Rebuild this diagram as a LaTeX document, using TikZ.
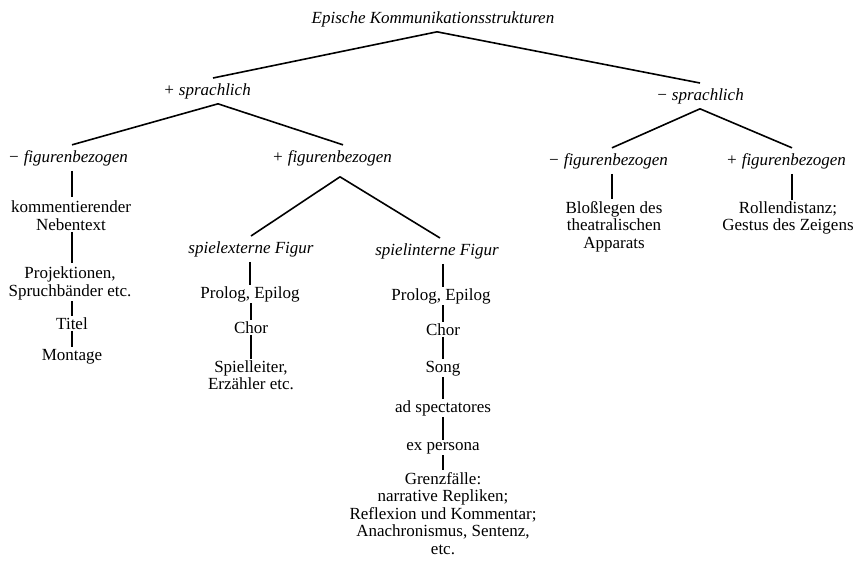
\documentclass[tikz,border=0pt]{standalone}
\usepackage{fontspec}
\setmainfont{Liberation Serif}
\begin{document}
\begin{tikzpicture}[x=1pt,y=1pt,
  rm/.style={anchor=base, inner sep=1.5pt, align=center, font=\fontsize{17}{17.5}\selectfont},
  it/.style={anchor=base, inner sep=5pt, align=center, font=\fontsize{17}{17.5}\selectfont\itshape},
  conn/.style={line width=1.6pt}]
\useasboundingbox (0,0) rectangle (863,-563);
% labels
\node[it] (title) at (433,-23) {Epische Kommunikationsstrukturen};
\node[it] (ps) at (207,-95) {+ sprachlich};
\node[it] (ms) at (700,-100) {− sprachlich};
\node[it] (mf1) at (68,-162) {− figurenbezogen};
\node[it] (pf1) at (332,-162) {+ figurenbezogen};
\node[it] (mf2) at (608,-165) {− figurenbezogen};
\node[it] (pf2) at (786,-165) {+ figurenbezogen};
% left column (multi-line nodes: base = last baseline)
\node[rm] (kn) at (71,-230) {kommentierender\\Nebentext};
\node[rm] (pr) at (70,-296) {Projektionen,\\Spruchbänder etc.};
\node[rm] (ti) at (72,-329) {Titel};
\node[rm] (mo) at (72,-360) {Montage};
% spielexterne
\node[it] (se) at (251,-253) {spielexterne Figur};
\node[rm] (pe1) at (250,-298) {Prolog, Epilog};
\node[rm] (ch1) at (251,-333) {Chor};
\node[rm] (sl) at (251,-389.5) {Spielleiter,\\Erzähler etc.};
% spielinterne
\node[it] (si) at (437,-255) {spielinterne Figur};
\node[rm] (pe2) at (441,-300) {Prolog, Epilog};
\node[rm] (ch2) at (443,-335) {Chor};
\node[rm] (so) at (443,-372) {Song};
\node[rm] (ad) at (443,-412) {ad spectatores};
\node[rm] (ex) at (443,-450) {ex persona};
\node[rm] (gr) at (443,-554) {Grenzfälle:\\narrative Repliken;\\Reflexion und Kommentar;\\Anachronismus, Sentenz,\\etc.};
% right
\node[rm] (bl) at (614,-248) {Bloßlegen des\\theatralischen\\Apparats};
\node[rm] (ro) at (788,-230.5) {Rollendistanz;\\Gestus des Zeigens};
% branches
\draw[conn] ([xshift=4pt]title.south) -- ([xshift=6pt]ps.north);
\draw[conn] ([xshift=4pt]title.south) -- (ms.north);
\draw[conn] ([xshift=11pt]ps.south) -- ([xshift=4pt]mf1.north);
\draw[conn] ([xshift=11pt]ps.south) -- ([xshift=11pt]pf1.north);
\draw[conn] ([xshift=8pt,yshift=-6pt]pf1.south) -- (se.north);
\draw[conn] ([xshift=8pt,yshift=-6pt]pf1.south) -- ([xshift=3pt]si.north);
\draw[conn] (ms.south) -- ([xshift=4pt]mf2.north);
\draw[conn] (ms.south) -- ([xshift=6pt]pf2.north);
% verticals
\draw[conn] (ti.north |- mf1.south) -- ([yshift=2pt]ti.north |- kn.north);
\draw[conn] (ti.north |- kn.south) -- ([yshift=2pt]ti.north |- pr.north);
\draw[conn] (ti.north |- pr.south) -- (ti.north);
\draw[conn] (ti.south) -- (mo.north);
\draw[conn] (pe1.north |- se.south) -- (pe1.north);
\draw[conn] (ch1.north |- pe1.south) -- (ch1.north);
\draw[conn] (ch1.south) -- (sl.north -| ch1.south);
\draw[conn] (ch2.north |- si.south) -- (ch2.north |- pe2.north);
\draw[conn] (ch2.north |- pe2.south) -- (ch2.north);
\draw[conn] (ch2.south) -- (so.north);
\draw[conn] (so.south) -- (ad.north);
\draw[conn] (ad.south) -- (ex.north);
\draw[conn] (ex.south) -- (gr.north);
\draw[conn] ([xshift=4pt]mf2.south) -- ([xshift=4pt]mf2.south |- bl.north);
\draw[conn] ([xshift=6pt]pf2.south) -- ([xshift=6pt]pf2.south |- ro.north);
\end{tikzpicture}
\end{document}
